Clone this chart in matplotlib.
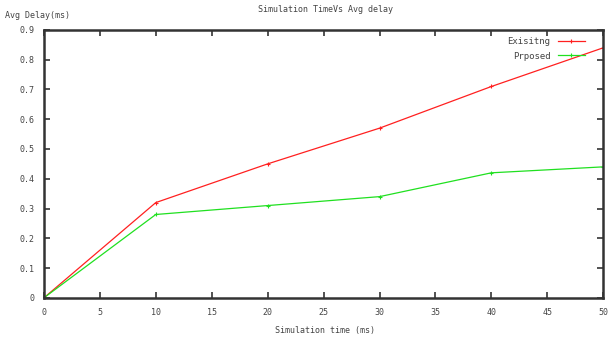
import matplotlib.pyplot as plt

# Simulation time vs average delay
sim_time = [0, 10, 20, 30, 40, 50]
existing = [0, 0.32, 0.45, 0.57, 0.71, 0.84]
proposed = [0, 0.28, 0.31, 0.34, 0.42, 0.44]

x_ticks = [0, 5, 10, 15, 20, 25, 30, 35, 40, 45, 50]
y_ticks = [0, 0.1, 0.2, 0.3, 0.4, 0.5, 0.6, 0.7, 0.8, 0.9]
y_labels = ['0', '0.1', '0.2', '0.3', '0.4', '0.5', '0.6', '0.7', '0.8', '0.9']

plt.rcParams['font.family'] = 'DejaVu Sans Mono'
txt = '#444444'

fig = plt.figure(figsize=(6.1, 3.4), dpi=100)
ax = fig.add_axes([0.072, 0.124, 0.917, 0.788])

ax.plot(sim_time, existing, color='#ff2020', lw=0.9, marker='+', ms=3, mew=0.8, label='Exisitng')
ax.plot(sim_time, proposed, color='#20e020', lw=0.9, marker='+', ms=3, mew=0.8, label='Prposed')

ax.set_xlim(0, 50)
ax.set_ylim(0, 0.9)
ax.set_xticks(x_ticks)
ax.set_yticks(y_ticks)
ax.set_yticklabels(y_labels)
ax.tick_params(direction='in', length=4, width=1.2, top=True, right=True,
               labelsize=6, labelcolor=txt, color='#333333', pad=7)
for s in ax.spines.values():
    s.set_linewidth(1.8)
    s.set_color('#333333')

fig.text(0.533, 0.972, 'Simulation TimeVs Avg delay', ha='center', va='center', fontsize=6, color=txt)
fig.text(0.008, 0.955, 'Avg Delay(ms)', ha='left', va='center', fontsize=6, color=txt)
fig.text(0.533, 0.028, 'Simulation time (ms)', ha='center', va='center', fontsize=6, color=txt)

ax.legend(loc='upper right', bbox_to_anchor=(0.98, 1.0), frameon=False, fontsize=6.5,
          markerfirst=False, handlelength=3, labelspacing=0.6, borderaxespad=0.4,
          labelcolor=txt)

fig.savefig('out.png', dpi=100)
